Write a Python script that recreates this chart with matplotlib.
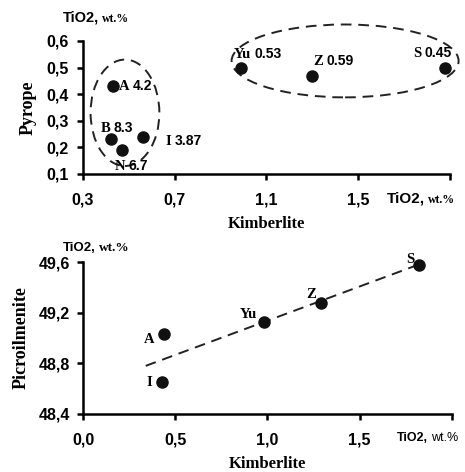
import matplotlib
matplotlib.use("Agg")
import matplotlib.pyplot as plt
from matplotlib.patches import Ellipse

# upper panel: pyrope vs kimberlite
top_names = ["A", "B", "N", "I", "Yu", "Z", "S"]
top_values = ["4.2", "8.3", "6.7", "3.87", "0.53", "0.59", "0.45"]
top_x = [0.43, 0.42, 0.47, 0.56, 0.99, 1.30, 1.88]
top_y = [0.43, 0.23, 0.19, 0.24, 0.50, 0.47, 0.50]
top_xticks = [0.3, 0.7, 1.1, 1.5, 1.9]
top_xticklabels = ["0,3", "0,7", "1,1", "1,5", ""]
top_yticks = [0.1, 0.2, 0.3, 0.4, 0.5, 0.6]
top_yticklabels = ["0,1", "0,2", "0,3", "0,4", "0,5", "0,6"]

# lower panel: picroilmenite vs kimberlite
bot_names = ["A", "I", "Yu", "Z", "S"]
bot_x = [0.44, 0.43, 0.98, 1.29, 1.82]
bot_y = [49.03, 48.65, 49.13, 49.28, 49.58]
trend_x = [0.34, 1.82]
trend_y = [48.78, 49.58]
bot_xticks = [0.0, 0.5, 1.0, 1.5, 2.0]
bot_xticklabels = ["0,0", "0,5", "1,0", "1,5", ""]
bot_yticks = [48.4, 48.8, 49.2, 49.6]
bot_yticklabels = ["48,4", "48,8", "49,2", "49,6"]

SERIF = "Liberation Serif"
SANS = "Liberation Sans"

fig = plt.figure(figsize=(4.65, 4.72), dpi=100)
ax1 = fig.add_axes([0.1785, 0.6314, 0.789, 0.2818])
ax2 = fig.add_axes([0.1785, 0.1229, 0.7935, 0.322])


def style_axes(ax, xticks, xlabels, yticks, ylabels, xpad, ypad):
    for s in ["top", "right"]:
        ax.spines[s].set_visible(False)
    for s in ["left", "bottom"]:
        ax.spines[s].set_linewidth(1.8)
    ax.set_xticks(xticks)
    ax.set_xticklabels(xlabels)
    ax.set_yticks(yticks)
    ax.set_yticklabels(ylabels)
    ax.set_xlim(xticks[0], xticks[-1])
    ax.set_ylim(yticks[0], yticks[-1])
    ax.tick_params(axis="x", direction="out", length=4.5, width=1.8, pad=xpad)
    ax.tick_params(axis="y", direction="out", length=4.5, width=1.8, pad=ypad)
    for lab in ax.get_xticklabels() + ax.get_yticklabels():
        lab.set_fontfamily(SANS)
        lab.set_fontweight("bold")
        lab.set_fontsize(11.5)


def two_part(ax, first, second, xy, coords, off, f1, s1, f2, s2, w2="bold"):
    t = ax.annotate(first, xy=xy, xycoords=coords, xytext=off,
                    textcoords="offset pixels", family=f1, size=s1,
                    weight="bold", ha="left", va="center",
                    annotation_clip=False)
    ax.annotate(second, xy=(1, 0), xycoords=t, xytext=(3, 0),
                textcoords="offset pixels", family=f2, size=s2,
                weight=w2, ha="left", va="bottom", annotation_clip=False)
    return t


# ---------- upper panel ----------
style_axes(ax1, top_xticks, top_xticklabels, top_yticks, top_yticklabels, 9, 6)
ax1.scatter(top_x, top_y, s=64, color="#111111", zorder=3, clip_on=False)

ax1.add_patch(Ellipse((0.483, 0.33), 0.30, 0.40, fill=False, lw=1.4,
                      ls=(0, (5.5, 3.5)), color="#222222", clip_on=False))
ax1.add_patch(Ellipse((1.443, 0.525), 0.99, 0.274, fill=False, lw=1.4,
                      ls=(0, (5.5, 3.5)), color="#222222", clip_on=False))

top_offsets = [(6, 0), (-10, 11), (-7, -16), (23, -5), (-7, 13), (1, 14), (-32, 14)]
for name, val, x, y, off in zip(top_names, top_values, top_x, top_y, top_offsets):
    two_part(ax1, name, val, (x, y), "data", off, SERIF, 10.5, SANS, 10)

ax1.set_ylabel("Pyrope", family=SERIF, weight="bold", size=13, labelpad=7)
ax1.set_xlabel("Kimberlite", family=SERIF, weight="bold", size=12, labelpad=6)
two_part(ax1, "TiO2,", "wt.%", (0, 1), "axes fraction", (-20, 23),
         SANS, 10.5, SERIF, 8.5)
two_part(ax1, "TiO2,", "wt.%", (1, 0), "axes fraction", (-63, -25),
         SANS, 11, SERIF, 8.5)

# ---------- lower panel ----------
style_axes(ax2, bot_xticks, bot_xticklabels, bot_yticks, bot_yticklabels, 9, 5)
ax2.plot(trend_x, trend_y, color="#222222", lw=1.4, ls=(0, (5.5, 3.5)), zorder=2)
ax2.scatter(bot_x, bot_y, s=64, color="#111111", zorder=3, clip_on=False)

bot_offsets = [(-10, -5), (-10, 0), (-7, 7), (-5, 8), (-4, 5)]
for name, x, y, off in zip(bot_names, bot_x, bot_y, bot_offsets):
    ax2.annotate(name, xy=(x, y), xytext=off, textcoords="offset pixels",
                 family=SERIF, weight="bold", size=10.5, ha="right",
                 va="center")

ax2.set_ylabel("Picroilmenite", family=SERIF, weight="bold", size=13,
               labelpad=6)
ax2.set_xlabel("Kimberlite", family=SERIF, weight="bold", size=12, labelpad=6)
two_part(ax2, "TiO2,", "wt.%", (0, 1), "axes fraction", (-20, 14),
         SANS, 9.5, SERIF, 9.5)
two_part(ax2, "TiO2,", "wt.%", (1, 0), "axes fraction", (-55, -24),
         SANS, 9, SANS, 9, w2="normal")

fig.savefig("out.png", dpi=100, facecolor="white")
